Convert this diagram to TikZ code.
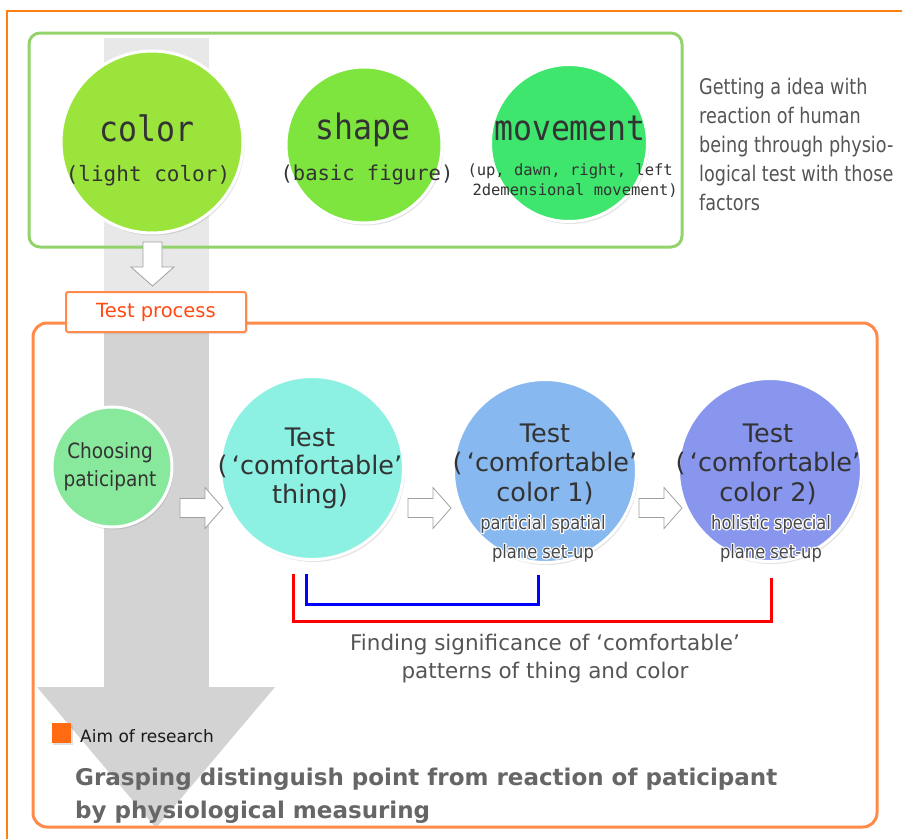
\documentclass[tikz,border=0pt]{standalone}
\usepackage{fontspec}
\setmainfont{DejaVu Sans}
\newfontfamily\monog{DejaVu Sans Mono}
\newfontfamily\monogc[FakeStretch=0.9]{DejaVu Sans Mono}
\newfontfamily\cond[FakeStretch=0.88]{DejaVu Sans}
\newfontfamily\condn[FakeStretch=0.82]{DejaVu Sans}
\usetikzlibrary{shadows,calc}
\definecolor{outerorange}{HTML}{FF7F0F}
\definecolor{innerorange}{HTML}{FF8A4A}
\definecolor{greenbox}{HTML}{93D36B}
\definecolor{bandlight}{HTML}{E8E8E8}
\definecolor{banddark}{HTML}{D3D3D3}
\definecolor{ccolor}{HTML}{9BE43C}
\definecolor{cshape}{HTML}{7EE53E}
\definecolor{cmove}{HTML}{3EE66E}
\definecolor{cchoose}{HTML}{88E89C}
\definecolor{cthing}{HTML}{8CF0E2}
\definecolor{cone}{HTML}{88B8F0}
\definecolor{ctwo}{HTML}{8896EE}
\definecolor{txtdark}{HTML}{333333}
\definecolor{txtgray}{HTML}{555555}
\definecolor{txtgray2}{HTML}{666666}
\definecolor{tpred}{HTML}{FF4A12}
\definecolor{aimorange}{HTML}{FF6A13}
\definecolor{arrgray}{HTML}{A0A0A0}
\newcommand\halotxt[1]{\leavevmode\rlap{\special{pdf:literal direct 1 Tr 2.5 w 1 1 1 RG 1 j}#1\special{pdf:literal direct 0 Tr}}#1}
\begin{document}
\begin{tikzpicture}[x=1pt,y=-1pt,
  circ/.style={circle, draw=white, line width=3pt, inner sep=0pt,
    drop shadow={shadow xshift=1.5pt, shadow yshift=-2.5pt, opacity=0.22}},
  ctext/.style={inner sep=0pt, text=txtdark, align=center},
  blockarrow/.style={draw=arrgray, fill=white, line width=0.8pt, line join=miter},
  bracketline/.style={line width=3pt},
]
\useasboundingbox (0,0) rectangle (902,838);
\clip (0,0) rectangle (902,838);
% outer frame
\draw[draw=outerorange, line width=2.5pt] (7,900) -- (7,11) -- (960,11);
% gray band and big down arrow
\fill[bandlight] (104,38) rectangle (209,292);
\fill[banddark] (104,292) rectangle (209,688);
\fill[banddark] (37,687) -- (275,687) -- (156,828) -- cycle;
% top green box
\node[draw=greenbox, line width=3pt, rounded corners=11pt, minimum width=653, minimum height=214, inner sep=0pt] (topbox) at (355.5,140) {};
% top circles
\node[circ, fill=ccolor, minimum size=182] (color) at (152,142) {};
\node[circ, fill=cshape, minimum size=156] (shape) at (364,145) {};
\node[circ, fill=cmove, minimum size=157] (movement) at (569,143) {};
\node[ctext, anchor=base, font=\monogc\fontsize{35}{35}\selectfont] (colort) at (147,141) {color};
\node[ctext, anchor=base, font=\monog\fontsize{21}{21}\selectfont] (colorsub) at (148,181) {(light color)};
\node[ctext, anchor=base, font=\monogc\fontsize{35}{35}\selectfont] (shapet) at (363,139) {shape};
\node[ctext, anchor=base, font=\monog\fontsize{20.5}{20.5}\selectfont] (shapesub) at (367,180) {(basic figure)};
\node[ctext, anchor=base, font=\monogc\fontsize{35}{35}\selectfont] (movet) at (570,140) {movement};
\node[ctext, anchor=base east, font=\monog\fontsize{15.5}{15.5}\selectfont] (movesub1) at (673,175) {(up, dawn, right, left};
\node[ctext, anchor=base east, font=\monog\fontsize{15.5}{15.5}\selectfont] (movesub2) at (678,195) {2demensional movement)};
% right explanatory text
\node[inner sep=0pt, anchor=north west, align=left, text=txtgray, font=\condn\fontsize{21.5}{29}\selectfont] (explain) at (699,78)
  {Getting a idea with\\reaction of human\\being through physio-\\logical test with those\\factors};
% small down arrow
\draw[blockarrow, shift={(152.5,242)}] (-9.5,0) -- (-9.5,25) -- (-21.5,25) -- (0,44) -- (21.5,25) -- (9.5,25) -- (9.5,0) -- cycle;
% process frame
\node[draw=innerorange, line width=3pt, rounded corners=14pt, minimum width=844, minimum height=504, inner sep=0pt] (procbox) at (455,575) {};
\node[draw=innerorange, fill=white, line width=2pt, rounded corners=1.5pt, minimum width=180, minimum height=40, inner sep=0pt,
  drop shadow={shadow xshift=1.5pt, shadow yshift=-2pt, opacity=0.2},
  text=tpred, font=\fontsize{19.5}{19.5}\selectfont] (testproc) at (156,312) {Test process\hspace{14pt}};
% process circles
\node[circ, fill=cchoose, minimum size=120] (choose) at (112,467) {};
\node[circ, fill=cthing, minimum size=183] (t1) at (312,468) {};
\node[circ, fill=cone, minimum size=183] (t2) at (545,471) {};
\node[circ, fill=ctwo, minimum size=183] (t3) at (770,470) {};
\node[ctext, text=txtdark, font=\cond\fontsize{21}{28}\selectfont] (chooset) at (110,467) {Choosing\\paticipant};
\node[ctext, font=\fontsize{25.5}{28.5}\selectfont] (t1t) at (310,468) {Test\\(\,‘comfortable’\\thing)};
\node[ctext, font=\fontsize{25.5}{29.5}\selectfont] (t2t) at (545,464) {Test\\(\,‘comfortable’\\color 1)};
\node[ctext, font=\fontsize{25.5}{29.5}\selectfont] (t3t) at (768,464) {Test\\(\,‘comfortable’\\color 2)};
% block arrows between circles
\coordinate (a1) at (180,508);
\coordinate (a2) at (408,508);
\coordinate (a3) at (639,508);
\foreach \p in {a1,a2,a3}{
  \draw[blockarrow, shift={(\p)}] (0,-9.5) -- (25,-9.5) -- (25,-20.5) -- (43,0) -- (25,20.5) -- (25,9.5) -- (0,9.5) -- cycle;
}
% brackets
\draw[bracketline, red] ($(t1.south)+(-19,13)$) -- ($(t1.south)+(-19,60.5)$) -| ($(t3.south)+(1,15)$);
\draw[bracketline, blue] ($(t1.south)+(-6,13)$) -- ($(t1.south)+(-6,43.5)$) -| ($(t2.south)+(-7,11)$);
\node[ctext, text=txtgray, font=\fontsize{21.5}{28}\selectfont] (finding) at (545,659) {Finding significance of ‘comfortable’\\patterns of thing and color};
% aim of research
\node[fill=aimorange, minimum size=19.5, inner sep=0pt, drop shadow={shadow xshift=1.5pt, shadow yshift=-2pt, opacity=0.25}] (aimsq) at (61.5,733) {};
\node[inner sep=0pt, anchor=base west, text=black!90, font=\fontsize{17}{17}\selectfont] (aimt) at (80,742) {Aim of research};
\node[inner sep=0pt, anchor=base west, text=txtgray2, font=\fontsize{23}{23}\selectfont\bfseries] (grasp1) at (75,785) {Grasping distinguish point from reaction of paticipant};
\node[inner sep=0pt, anchor=base west, text=txtgray2, font=\fontsize{23}{23}\selectfont\bfseries] (grasp2) at (75,818) {by physiological measuring};
% small halo texts
\node[ctext, text=txtdark!90, font=\cond\fontsize{18.5}{29}\selectfont] (t2s) at (543,538.5) {\halotxt{particial spatial}\\\halotxt{plane set-up}};
\node[ctext, text=txtdark!90, font=\cond\fontsize{18.5}{29}\selectfont] (t3s) at (771,538.5) {\halotxt{holistic special}\\\halotxt{plane set-up}};
\end{tikzpicture}
\end{document}
